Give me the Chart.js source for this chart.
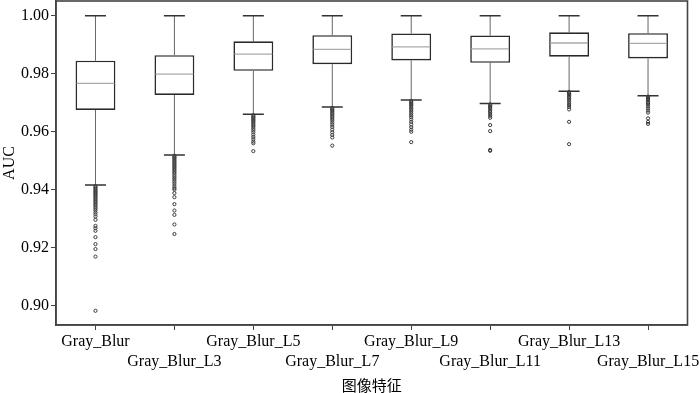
<!DOCTYPE html>
<html><head><meta charset="utf-8">
<script src="https://cdn.jsdelivr.net/npm/chart.js@4.4.1/dist/chart.umd.min.js"></script>
<style>html,body{margin:0;padding:0;background:#fff}#wrap{width:700px;height:393px}</style>
</head><body><div id="wrap"><canvas id="c" width="700" height="393"></canvas></div>
<script>
const categories = ['Gray_Blur','Gray_Blur_L3','Gray_Blur_L5','Gray_Blur_L7','Gray_Blur_L9','Gray_Blur_L11','Gray_Blur_L13','Gray_Blur_L15'];
const whiskerHigh = [1.000,1.000,1.000,1.000,1.000,1.000,1.000,1.000];
const q3Values    = [0.9845,0.9864,0.9912,0.9933,0.9939,0.9932,0.9943,0.9940];
const medianValues= [0.9767,0.9799,0.9868,0.9884,0.9893,0.9886,0.9906,0.9905];
const q1Values    = [0.9675,0.9727,0.9810,0.9833,0.9846,0.9838,0.9859,0.9853];
const whiskerLow  = [0.9416,0.9520,0.9660,0.9685,0.9709,0.9697,0.9740,0.9724];
const outliers = [
 [0.9412,0.9408,0.9404,0.9400,0.9396,0.9392,0.9388,0.9384,0.9380,0.9376,0.9371,0.9366,0.9362,0.9357,0.9352,0.9347,0.9342,0.9336,0.9330,0.9322,0.9315,0.9307,0.9296,0.9275,0.9267,0.9258,0.9236,0.9212,0.9195,0.9169,0.8982],
 [0.9517,0.9513,0.9509,0.9505,0.9500,0.9496,0.9491,0.9487,0.9482,0.9478,0.9473,0.9468,0.9463,0.9458,0.9452,0.9446,0.9440,0.9434,0.9427,0.9420,0.9412,0.9405,0.9400,0.9388,0.9374,0.9350,0.9328,0.9313,0.9280,0.9247],
 [0.9657,0.9653,0.9649,0.9645,0.9641,0.9637,0.9632,0.9627,0.9622,0.9617,0.9611,0.9605,0.9598,0.9590,0.9582,0.9574,0.9566,0.9560,0.9533],
 [0.9682,0.9678,0.9674,0.9670,0.9665,0.9660,0.9655,0.9650,0.9644,0.9638,0.9631,0.9624,0.9616,0.9607,0.9598,0.9589,0.9580,0.9552],
 [0.9706,0.9702,0.9698,0.9694,0.9690,0.9685,0.9680,0.9675,0.9669,0.9663,0.9657,0.9650,0.9642,0.9634,0.9625,0.9616,0.9607,0.9600,0.9564],
 [0.9694,0.9690,0.9686,0.9682,0.9677,0.9672,0.9667,0.9661,0.9655,0.9648,0.9623,0.9602,0.9537,0.9534],
 [0.9737,0.9733,0.9729,0.9725,0.9720,0.9715,0.9710,0.9704,0.9698,0.9692,0.9685,0.9677,0.9634,0.9557],
 [0.9721,0.9717,0.9713,0.9709,0.9704,0.9699,0.9693,0.9687,0.9680,0.9673,0.9666,0.9646,0.9634,0.9627]
];
const yTickValues = [0.90,0.92,0.94,0.96,0.98,1.00];
const yMin = 0.8933, yMax = 1.0051;

const boxData = categories.map((c,i)=>[q1Values[i], q3Values[i]]);
const outlierPoints = [];
categories.forEach((c,i)=>outliers[i].forEach(v=>outlierPoints.push({x:c,y:v})));

const boxPlugin = {
  id:'boxExtras',
  beforeDatasetsDraw(chart){
    const x = chart.scales.x, y = chart.scales.y, ctx = chart.ctx;
    ctx.save();
    categories.forEach((c,i)=>{
      const cx = x.getPixelForValue(i);
      ctx.strokeStyle = '#666'; ctx.lineWidth = 1;
      ctx.beginPath();
      ctx.moveTo(cx, y.getPixelForValue(whiskerHigh[i])); ctx.lineTo(cx, y.getPixelForValue(q3Values[i]));
      ctx.moveTo(cx, y.getPixelForValue(q1Values[i])); ctx.lineTo(cx, y.getPixelForValue(whiskerLow[i]));
      ctx.stroke();
      ctx.strokeStyle = '#333'; ctx.lineWidth = 1.5;
      ctx.beginPath();
      [whiskerHigh[i], whiskerLow[i]].forEach(v=>{
        const py = y.getPixelForValue(v);
        ctx.moveTo(cx-10.5, py); ctx.lineTo(cx+10.5, py);
      });
      ctx.stroke();
    });
    ctx.restore();
  },
  afterDatasetsDraw(chart){
    const y = chart.scales.y, ctx = chart.ctx;
    const meta = chart.getDatasetMeta(0);
    ctx.save();
    ctx.strokeStyle = '#aaa'; ctx.lineWidth = 1.3;
    categories.forEach((c,i)=>{
      const bar = meta.data[i];
      const half = bar.width/2 - 1;
      const py = y.getPixelForValue(medianValues[i]);
      ctx.beginPath(); ctx.moveTo(bar.x-half, py); ctx.lineTo(bar.x+half, py); ctx.stroke();
    });
    const a = chart.chartArea;
    ctx.strokeStyle = '#444'; ctx.lineWidth = 1.6;
    ctx.strokeRect(a.left, a.top, a.right-a.left, a.bottom-a.top);
    ctx.restore();
  }
};

new Chart(document.getElementById('c'), {
  type:'bar',
  data:{
    labels: categories,
    datasets:[
      {type:'bar', data: boxData, backgroundColor:'#fff', borderColor:'#2a2a2a', borderWidth:1.6, borderSkipped:false,
       categoryPercentage:1, barPercentage:0.505, order:2},
      {type:'line', data: outlierPoints, showLine:false, pointRadius:1.6, pointBorderWidth:1,
       pointBorderColor:'#3a3a3a', pointBackgroundColor:'rgba(255,255,255,0)', order:1}
    ]
  },
  options:{
    responsive:false, animation:false, devicePixelRatio:1,
    layout:{autoPadding:false, padding:{top:1,right:12.5,left:0,bottom:0}},
    plugins:{legend:{display:false}, tooltip:{enabled:false}},
    scales:{
      x:{
        offset:true,
        grid:{offset:false, drawOnChartArea:false, tickLength:5, color:'#444', tickWidth:1},
        border:{display:true, color:'#444', width:1.6},
        ticks:{color:'#000', padding:2, maxRotation:0, autoSkip:false,
          font:{family:'Liberation Serif', size:16, lineHeight:1.25},
          callback:(v,i)=> i%2===0 ? categories[i] : ['', categories[i]]},
        title:{display:true, text:'图像特征', color:'#000', padding:0,
          font:{family:'Noto Sans CJK SC', size:15, lineHeight:1}},
        afterFit:(s)=>{s.height = 68; s.paddingLeft = 0; s.paddingRight = 0;}
      },
      y:{
        min:yMin, max:yMax,
        afterBuildTicks:(s)=>{s.ticks = yTickValues.map(v=>({value:v}));},
        grid:{drawOnChartArea:false, tickLength:5, color:'#444'},
        border:{display:true, color:'#444', width:1.6},
        ticks:{color:'#000', padding:2, font:{family:'Liberation Serif', size:16},
          callback:(v)=>Number(v).toFixed(2)},
        title:{display:true, text:'AUC', color:'#000', padding:2,
          font:{family:'Liberation Serif', size:16, lineHeight:1}},
        afterFit:(s)=>{s.width = 56; s.paddingTop = 0; s.paddingBottom = 0;}
      }
    }
  },
  plugins:[boxPlugin]
});
</script></body></html>
